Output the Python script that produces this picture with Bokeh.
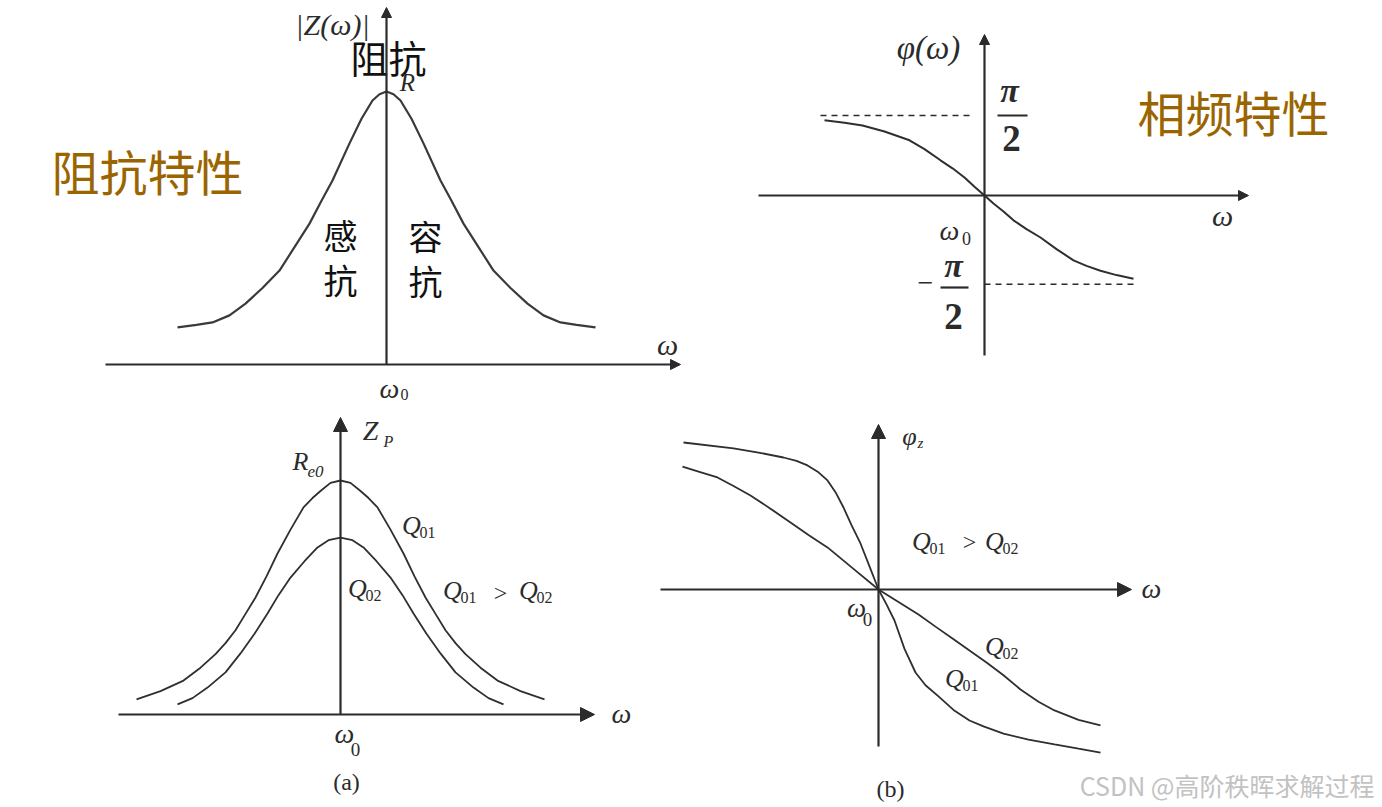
from bokeh.plotting import figure
from bokeh.models import Range1d, Arrow, NormalHead
from bokeh.layouts import column, row
from bokeh.core.properties import value
from bokeh.embed import file_html
from bokeh.resources import INLINE

# ---------------- data ----------------
# Panel 1: impedance |Z(w)| (normalised to R), w offset from w0
imp_w = [-2.09, -1.90, -1.74, -1.57, -1.41, -1.24, -1.07, -0.92, -0.77, -0.65, -0.54, -0.37,
         -0.25, -0.14, -0.07, 0.0, 0.07, 0.14, 0.25, 0.37, 0.54, 0.65, 0.77, 0.92,
         1.07, 1.24, 1.41, 1.57, 1.74, 1.90, 2.09]
imp_z = [0.136, 0.145, 0.154, 0.18, 0.223, 0.28, 0.344, 0.43, 0.516, 0.60, 0.674, 0.810,
         0.90, 0.967, 0.99, 1.0, 0.99, 0.967, 0.90, 0.810, 0.674, 0.60, 0.516, 0.43,
         0.344, 0.28, 0.223, 0.18, 0.154, 0.145, 0.136]

# Panel 2: phase phi(w) (in units of the +pi/2 reference line)
ph_w = [-1.60, -1.40, -1.22, -1.00, -0.75, -0.60, -0.44, -0.32, -0.20, -0.10, 0.0,
        0.09, 0.19, 0.29, 0.42, 0.56, 0.72, 0.89, 1.02, 1.16, 1.32, 1.49]
ph_v = [0.94, 0.91, 0.875, 0.80, 0.69, 0.58, 0.44, 0.34, 0.225, 0.11, 0.0,
        -0.10, -0.20, -0.31, -0.42, -0.525, -0.67, -0.81, -0.88, -0.94, -0.995, -1.04]
ph_levels = [1.0, -1.11]

# Panel 3: Z_P for Q01 and Q02 (normalised to Re0)
zq1_w = [-2.04, -1.80, -1.57, -1.40, -1.25, -1.15, -1.05, -0.95, -0.85, -0.74, -0.63, -0.50,
         -0.37, -0.28, -0.20, -0.10, 0.0, 0.10, 0.20, 0.28, 0.37, 0.50, 0.63, 0.74,
         0.85, 0.95, 1.05, 1.15, 1.25, 1.40, 1.57, 1.80, 2.04]
zq1_z = [0.065, 0.10, 0.145, 0.20, 0.258, 0.305, 0.36, 0.43, 0.50, 0.59, 0.688, 0.79,
         0.885, 0.925, 0.955, 0.99, 1.0, 0.99, 0.955, 0.925, 0.885, 0.79, 0.688, 0.59,
         0.50, 0.43, 0.36, 0.305, 0.258, 0.20, 0.145, 0.10, 0.065]
zq2_w = [-1.63, -1.48, -1.33, -1.15, -1.00, -0.86, -0.73, -0.62, -0.50, -0.36, -0.23, -0.12, 0.0,
         0.12, 0.23, 0.36, 0.50, 0.62, 0.73, 0.86, 1.00, 1.15, 1.33, 1.48, 1.63]
zq2_z = [0.043, 0.07, 0.115, 0.18, 0.261, 0.345, 0.432, 0.51, 0.585, 0.655, 0.714, 0.745, 0.756,
         0.745, 0.714, 0.655, 0.585, 0.51, 0.432, 0.345, 0.261, 0.18, 0.115, 0.07, 0.043]

# Panel 4: phase phi_z for Q01 and Q02
pq1_w = [-1.95, -1.45, -1.20, -0.95, -0.82, -0.71, -0.60, -0.51, -0.43, -0.35, -0.27, -0.18, -0.09, 0.0,
         0.08, 0.16, 0.26, 0.37, 0.47, 0.60, 0.75, 0.91, 1.05, 1.25, 1.50, 1.76, 2.00, 2.22]
pq1_v = [0.891, 0.855, 0.83, 0.80, 0.78, 0.752, 0.71, 0.661, 0.59, 0.497, 0.39, 0.279, 0.14, 0.0,
         -0.09, -0.188, -0.36, -0.503, -0.58, -0.648, -0.73, -0.794, -0.83, -0.873, -0.91, -0.939, -0.965, -0.988]
pq2_w = [-1.96, -1.80, -1.61, -1.45, -1.28, -1.08, -0.88, -0.70, -0.51, -0.25, 0.0,
         0.20, 0.40, 0.57, 0.74, 0.91, 1.08, 1.25, 1.42, 1.60, 1.76, 2.00, 2.22]
pq2_v = [0.745, 0.715, 0.679, 0.627, 0.570, 0.49, 0.406, 0.33, 0.255, 0.125, 0.0,
         -0.076, -0.152, -0.225, -0.297, -0.37, -0.442, -0.52, -0.606, -0.68, -0.733, -0.79, -0.824]

INK = "#2b2b2b"
BROWN = "#9a6500"
SERIF = "Liberation Serif"
CJK = "Noto Sans CJK SC"


def make_panel(box, origin, scale):
    x0, x1, y0, y1 = box
    ox, oy = origin
    sx, sy = scale
    p = figure(width=x1 - x0, height=y1 - y0,
               x_range=Range1d((x0 - ox) / sx, (x1 - ox) / sx),
               y_range=Range1d((oy - y1) / sy, (oy - y0) / sy),
               x_axis_type=None, y_axis_type=None,
               toolbar_location=None, output_backend="svg",
               min_border=0, outline_line_color=None)
    p.min_border_left = p.min_border_right = p.min_border_top = p.min_border_bottom = 0
    p.background_fill_color = "white"
    p.border_fill_color = "white"
    p._info = (ox, oy, sx, sy)
    return p


def conv(p, X, Y):
    ox, oy, sx, sy = p._info
    return (X - ox) / sx, (oy - Y) / sy


def txt(p, X, Y, s, size, font=SERIF, style="italic", color=INK, align="center", baseline="middle"):
    x, y = conv(p, X, Y)
    p.text(x=[x], y=[y], text=[s], text_font=value(font), text_font_size=f"{size}px",
           text_font_style=style, text_color=color, text_align=align, text_baseline=baseline)


def qsub(p, X, Y, sub, size=26):
    # script Q centred at (X, Y) with its subscript right after it
    txt(p, X, Y, "Q", size)
    txt(p, X + 8, Y + 7, sub, 16, style="normal", align="left")


def arrow(p, X0, Y0, X1, Y1, head=11, lw=2.2):
    x0, y0 = conv(p, X0, Y0)
    x1, y1 = conv(p, X1, Y1)
    p.add_layout(Arrow(end=NormalHead(size=head, fill_color=INK, line_color=INK, line_width=1),
                       x_start=x0, y_start=y0, x_end=x1, y_end=y1,
                       line_color=INK, line_width=lw))


def seg(p, X0, Y0, X1, Y1, lw=2.0, dash="solid"):
    x0, y0 = conv(p, X0, Y0)
    x1, y1 = conv(p, X1, Y1)
    p.line(x=[x0, x1], y=[y0, y1], line_color=INK, line_width=lw, line_dash=dash)


# ---------------- Panel 1: impedance characteristic ----------------
p1 = make_panel((0, 712, 0, 406), (386, 364), (100, 273))
arrow(p1, 105, 364, 680, 364, head=10)
arrow(p1, 386, 364, 386, 7, head=10)
p1.line(imp_w, imp_z, line_color="#3a3a3a", line_width=2.2)
txt(p1, 332, 24, "|Z(ω)|", 30)
txt(p1, 388, 56, "阻抗", 38, font=CJK, style="normal", color="#111111")
txt(p1, 407, 82, "R", 25)
txt(p1, 147, 169, "阻抗特性", 48, font=CJK, style="normal", color=BROWN)
txt(p1, 340, 234, "感", 34, font=CJK, style="normal", color="#111111")
txt(p1, 340, 279, "抗", 34, font=CJK, style="normal", color="#111111")
txt(p1, 425, 235, "容", 34, font=CJK, style="normal", color="#111111")
txt(p1, 425, 280, "抗", 34, font=CJK, style="normal", color="#111111")
txt(p1, 667, 344, "ω", 30)
txt(p1, 389, 388, "ω", 28)
txt(p1, 404, 394, "0", 16, style="normal")

# ---------------- Panel 2: phase characteristic ----------------
p2 = make_panel((712, 1378, 0, 406), (984, 195), (100, 80))
arrow(p2, 758, 195, 1248, 195, head=10)
arrow(p2, 984, 355, 984, 34, head=10)
p2.line(x=[-1.64, -0.1], y=[ph_levels[0]] * 2, line_color=INK, line_width=1.6, line_dash="6 5")
p2.line(x=[0.0, 1.53], y=[ph_levels[1]] * 2, line_color=INK, line_width=1.6, line_dash="6 5")
p2.line(ph_w, ph_v, line_color="#2f2f2f", line_width=2.0)
txt(p2, 928, 47, "φ(ω)", 33)
txt(p2, 1009, 90, "π", 34, style="bold italic")
seg(p2, 997, 115, 1027, 115, lw=2.2)
txt(p2, 1011, 138, "2", 37, style="bold")
txt(p2, 925, 282, "−", 28, style="normal")
txt(p2, 953, 265, "π", 34, style="bold italic")
seg(p2, 940, 287, 968, 287, lw=2.2)
txt(p2, 953, 316, "2", 37, style="bold")
txt(p2, 949, 230, "ω", 28)
txt(p2, 966, 238, "0", 18, style="normal")
txt(p2, 1222, 215, "ω", 30)
txt(p2, 1233, 110, "相频特性", 48, font=CJK, style="normal", color=BROWN)

# ---------------- Panel 3: (a) Z_P curves ----------------
p3 = make_panel((0, 650, 406, 803), (340, 714), (100, 234))
arrow(p3, 118, 714, 594, 714, head=14)
arrow(p3, 340, 714, 340, 417, head=14)
p3.line(zq1_w, zq1_z, line_color="#2f2f2f", line_width=1.8)
p3.line(zq2_w, zq2_z, line_color="#2f2f2f", line_width=1.8)
txt(p3, 370, 430, "Z", 28)
txt(p3, 388, 441, "P", 16)
txt(p3, 300, 461, "R", 26)
txt(p3, 307, 471, "e0", 17, align="left")
qsub(p3, 411, 525, "01")
qsub(p3, 357, 588, "02")
qsub(p3, 452, 590, "01")
txt(p3, 500, 592, ">", 24, style="normal")
qsub(p3, 528, 590, "02")
txt(p3, 621, 713, "ω", 28)
txt(p3, 344, 733, "ω", 28)
txt(p3, 355, 749, "0", 19, style="normal")
txt(p3, 346, 781, "(a)", 24, style="normal")

# ---------------- Panel 4: (b) phase curves ----------------
p4 = make_panel((650, 1378, 406, 803), (878, 589), (100, 165))
arrow(p4, 660, 589, 1131, 589, head=14)
arrow(p4, 878, 746, 878, 424, head=14)
p4.line(pq1_w, pq1_v, line_color="#2f2f2f", line_width=1.8)
p4.line(pq2_w, pq2_v, line_color="#2f2f2f", line_width=1.8)
txt(p4, 909, 436, "φ", 26)
txt(p4, 917, 442, "z", 15, align="left")
qsub(p4, 921, 541, "01")
txt(p4, 969, 541, ">", 24, style="normal")
qsub(p4, 994, 541, "02")
txt(p4, 856, 607, "ω", 27)
txt(p4, 867, 619, "0", 19, style="normal")
txt(p4, 1151, 588, "ω", 28)
qsub(p4, 994, 646, "02")
qsub(p4, 954, 678, "01")
txt(p4, 890, 788, "(b)", 24, style="normal")
txt(p4, 1374, 784, "CSDN @高阶秩晖求解过程", 25, font=CJK, style="normal",
    color="#c2c2c2", align="right")

layout = column(row(p1, p2, spacing=0), row(p3, p4, spacing=0), spacing=0)
open("out.html", "w").write(file_html(layout, INLINE))
